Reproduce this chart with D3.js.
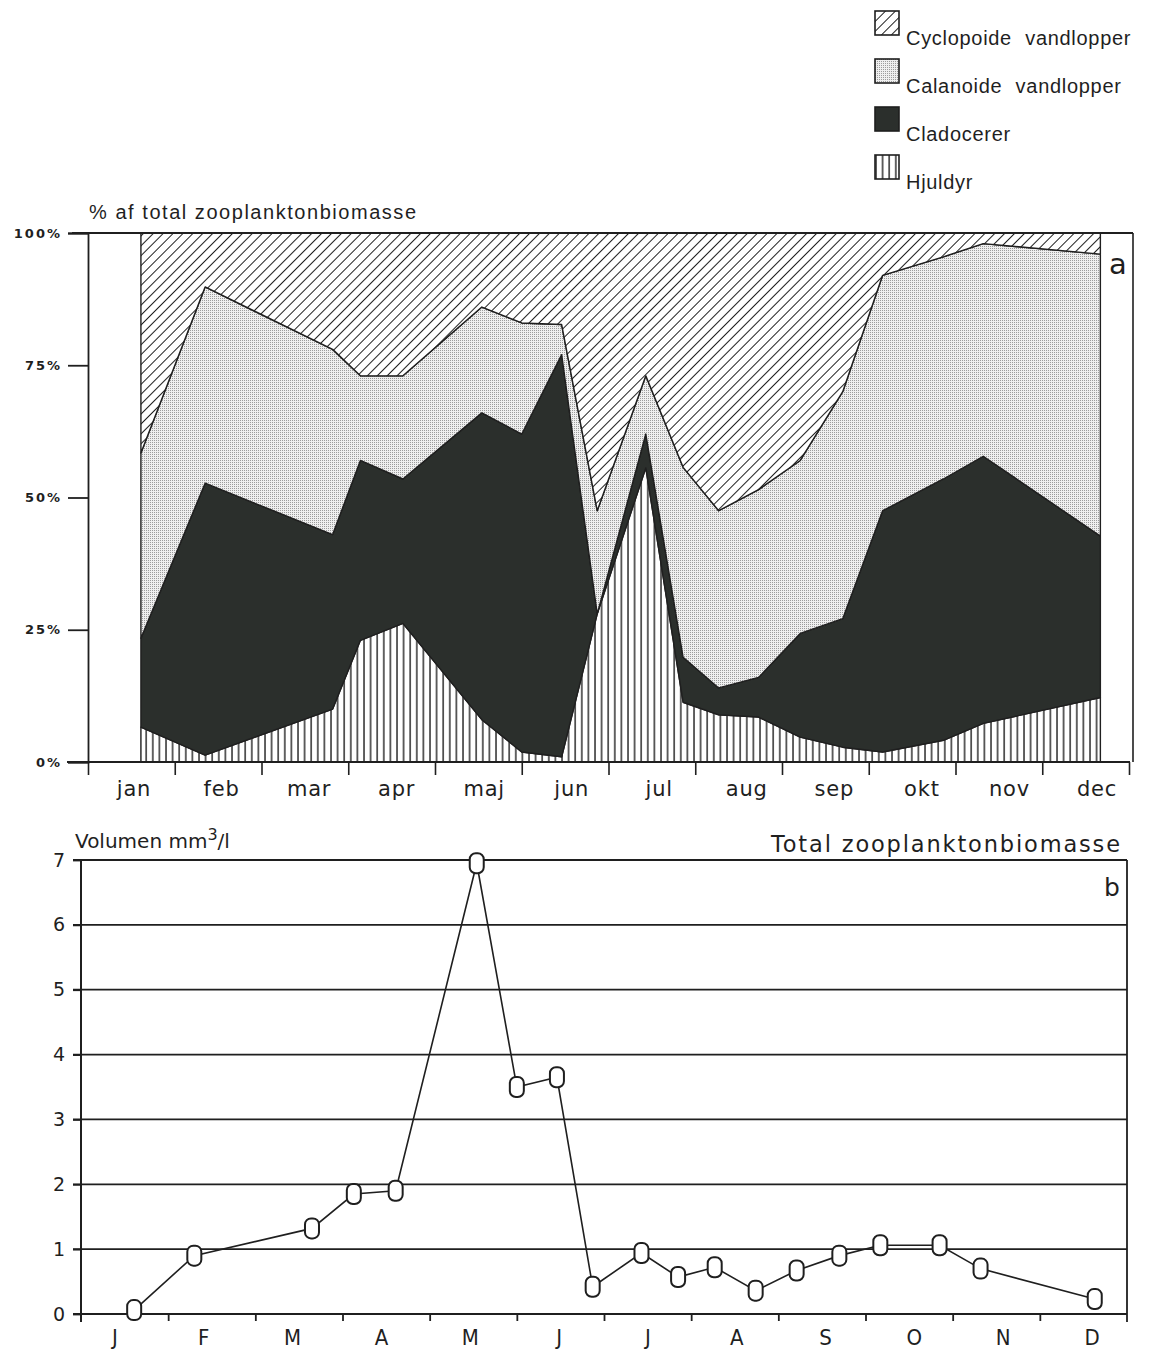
<!DOCTYPE html>
<html>
<head>
<meta charset="utf-8">
<script src="https://cdn.jsdelivr.net/npm/d3@7"></script>
<style>
    body { margin: 0; background: #fff; }
    svg { display: block; }
</style>
</head>
<body>
<div id="chart"></div>
<script>

// months
const monthNames = ['jan', 'feb', 'mar', 'apr', 'maj', 'jun', 'jul', 'aug', 'sep', 'okt', 'nov', 'dec'];
const monthInitials = ['J', 'F', 'M', 'A', 'M', 'J', 'J', 'A', 'S', 'O', 'N', 'D'];

// sampling dates, in months since 1 jan
const sampleMonthA = [0.61, 1.35, 2.82, 3.14, 3.63, 4.54, 5.00, 5.46, 5.87, 6.43, 6.86, 7.27, 7.73, 8.21, 8.70, 9.16, 9.86, 10.32, 11.67];
const sampleMonthB = [0.61, 1.30, 2.65, 3.13, 3.61, 4.54, 5.00, 5.46, 5.87, 6.43, 6.85, 7.27, 7.74, 8.21, 8.70, 9.17, 9.85, 10.32, 11.63];

// % of total zooplankton biomass (a)
const hjuldyr    = [6.6, 1.3, 10, 23, 26.2, 8, 1.9, 1, 28, 55.6, 11.3, 8.9, 8.5, 4.7, 2.8, 1.9, 4.1, 7.3, 12.2];
const cladocerer = [16.8, 51.4, 33, 34, 27.3, 58, 60.1, 76, 0, 6.4, 8.5, 5.1, 7.5, 19.6, 24.3, 45.6, 49.4, 50.5, 30.5];
const calanoide  = [35, 37.1, 35, 16, 19.5, 20, 21, 5.7, 19.5, 11, 35.9, 33.5, 35.5, 32.7, 42.9, 44.5, 42, 40.2, 53.3];
const cyclopoide = [41.6, 10.2, 22, 27, 27, 14, 17, 17.3, 52.5, 27, 44.3, 52.5, 48.5, 43, 30, 8, 4.5, 2, 4];

// total volume mm3/l (b)
const volumen = [0.06, 0.9, 1.32, 1.85, 1.9, 6.95, 3.5, 3.65, 0.42, 0.94, 0.57, 0.72, 0.36, 0.67, 0.9, 1.06, 1.06, 0.7, 0.23];

// ticks
const pctTicks = [0, 25, 50, 75, 100];
const volTicks = [0, 1, 2, 3, 4, 5, 6, 7];

// legend, top to bottom
const legendKeys = ['cyclopoide', 'calanoide', 'cladocerer', 'hjuldyr'];
const legendLabels = ['Cyclopoide vandlopper', 'Calanoide vandlopper', 'Cladocerer', 'Hjuldyr'];

const ink = '#1f1f1f';
const dark = '#2b2f2c';

const svg = d3.select('#chart')
    .append('svg')
    .attr('width', 1152)
    .attr('height', 1349);

// fill patterns
const defs = svg.append('defs');

const hatch = defs.append('pattern')
    .attr('id', 'fill-cyclopoide')
    .attr('patternUnits', 'userSpaceOnUse')
    .attr('width', 7).attr('height', 7)
    .attr('patternTransform', 'rotate(45)');
hatch.append('rect').attr('width', 7).attr('height', 7).attr('fill', '#fff');
hatch.append('line').attr('x1', 0).attr('y1', 0).attr('x2', 0).attr('y2', 7)
    .attr('stroke', ink).attr('stroke-width', 2);

const dots = defs.append('pattern')
    .attr('id', 'fill-calanoide')
    .attr('patternUnits', 'userSpaceOnUse')
    .attr('width', 2).attr('height', 2);
dots.append('rect').attr('width', 2).attr('height', 2).attr('fill', '#efefef');
dots.append('rect').attr('width', 1).attr('height', 1).attr('fill', '#9c9c9c');

const solid = defs.append('pattern')
    .attr('id', 'fill-cladocerer')
    .attr('patternUnits', 'userSpaceOnUse')
    .attr('width', 4).attr('height', 4);
solid.append('rect').attr('width', 4).attr('height', 4).attr('fill', dark);

const vert = defs.append('pattern')
    .attr('id', 'fill-hjuldyr')
    .attr('patternUnits', 'userSpaceOnUse')
    .attr('width', 6.6).attr('height', 10);
vert.append('rect').attr('width', 6.6).attr('height', 10).attr('fill', '#fff');
vert.append('line').attr('x1', 1).attr('y1', 0).attr('x2', 1).attr('y2', 10)
    .attr('stroke', ink).attr('stroke-width', 1.4);


// ---------- legend ----------
const legend = svg.append('g').attr('transform', 'translate(875,11)');

legendKeys.forEach((key, i) => {
    const row = legend.append('g').attr('transform', `translate(0,${i * 48})`);
    row.append('rect')
        .attr('width', 24).attr('height', 24)
        .attr('fill', `url(#fill-${key})`)
        .attr('stroke', ink).attr('stroke-width', 1.6);
    row.append('text')
        .attr('x', 31).attr('y', 34)
        .attr('font-family', 'Liberation Sans, Arial, sans-serif')
        .attr('font-size', 20)
        .attr('letter-spacing', 0.7)
        .attr('word-spacing', 7)
        .attr('fill', ink)
        .text(legendLabels[i]);
});


// ---------- chart a ----------
const xA = d3.scaleLinear().domain([0, 12]).range([88, 1129]);
const yA = d3.scaleLinear().domain([0, 100]).range([762, 233]);
const monthLabelA = d3.scaleLinear().domain([0, 11]).range([134, 1097]);

const rowsA = sampleMonthA.map((m, i) => ({
    month: m,
    hjuldyr: hjuldyr[i],
    cladocerer: cladocerer[i],
    calanoide: calanoide[i],
    cyclopoide: cyclopoide[i]
}));

const stack = d3.stack().keys(['hjuldyr', 'cladocerer', 'calanoide', 'cyclopoide']);
const layers = stack(rowsA);

const area = d3.area()
    .x(d => xA(d.data.month))
    .y0(d => yA(d[0]))
    .y1(d => yA(d[1]));

const chartA = svg.append('g');

chartA.selectAll('.layer')
    .data(layers)
    .join('path')
    .attr('class', 'layer')
    .attr('d', area)
    .attr('fill', d => `url(#fill-${d.key})`)
    .attr('stroke', ink)
    .attr('stroke-width', 1.4)
    .attr('stroke-linejoin', 'round');

// frame: top line and right box with label a
chartA.append('line')
    .attr('x1', 72).attr('x2', 1133)
    .attr('y1', yA(100)).attr('y2', yA(100))
    .attr('stroke', ink).attr('stroke-width', 1.8);
chartA.append('line')
    .attr('x1', 1133).attr('x2', 1133)
    .attr('y1', yA(100)).attr('y2', yA(0))
    .attr('stroke', ink).attr('stroke-width', 1.6);
chartA.append('text')
    .attr('x', 1118).attr('y', 274)
    .attr('text-anchor', 'middle')
    .attr('font-family', 'DejaVu Sans, sans-serif')
    .attr('font-size', 29)
    .attr('fill', ink)
    .text('a');

// y axis
const yAxisA = chartA.append('g')
    .attr('transform', 'translate(88,0)')
    .call(d3.axisLeft(yA).tickValues(pctTicks).tickSize(20).tickPadding(6).tickFormat(d => d + '%'));
yAxisA.select('.domain').attr('stroke', ink).attr('stroke-width', 1.8);
yAxisA.selectAll('.tick line').attr('stroke', ink).attr('stroke-width', 1.8);
yAxisA.selectAll('text')
    .attr('font-family', 'DejaVu Sans, sans-serif')
    .attr('font-weight', 'bold')
    .attr('font-size', 13)
    .attr('letter-spacing', 2)
    .attr('fill', ink);

// x axis
const xAxisA = chartA.append('g')
    .attr('transform', `translate(0,${yA(0)})`)
    .call(d3.axisBottom(xA).tickValues(d3.range(0, 13)).tickSize(13).tickFormat(''));
xAxisA.select('.domain').attr('d', `M67,0H1130`).attr('stroke', ink).attr('stroke-width', 1.8);
xAxisA.selectAll('.tick line').attr('stroke', ink).attr('stroke-width', 1.6);

chartA.append('g')
    .selectAll('text')
    .data(monthNames)
    .join('text')
    .attr('x', (d, i) => monthLabelA(i))
    .attr('y', 796)
    .attr('text-anchor', 'middle')
    .attr('font-family', 'DejaVu Sans, sans-serif')
    .attr('font-size', 21)
    .attr('letter-spacing', 0.8)
    .attr('fill', ink)
    .text(d => d);

chartA.append('text')
    .attr('x', 89).attr('y', 219)
    .attr('font-family', 'Liberation Sans, Arial, sans-serif')
    .attr('font-size', 20)
    .attr('textLength', 327)
    .attr('lengthAdjust', 'spacing')
    .attr('fill', ink)
    .text('% af total  zooplanktonbiomasse');


// ---------- chart b ----------
const xB = d3.scaleLinear().domain([0, 12]).range([81, 1127]);
const yB = d3.scaleLinear().domain([0, 7]).range([1314, 860]);
const monthLabelB = d3.scaleLinear().domain([0, 11]).range([115, 1092]);

const chartB = svg.append('g');

// grid lines
chartB.append('g')
    .selectAll('line')
    .data(volTicks)
    .join('line')
    .attr('x1', 73).attr('x2', 1127)
    .attr('y1', d => yB(d)).attr('y2', d => yB(d))
    .attr('stroke', ink).attr('stroke-width', 1.8);

chartB.append('line')
    .attr('x1', 81).attr('x2', 81)
    .attr('y1', yB(7)).attr('y2', yB(0) + 8)
    .attr('stroke', ink).attr('stroke-width', 2);
chartB.append('line')
    .attr('x1', 1127).attr('x2', 1127)
    .attr('y1', yB(7)).attr('y2', yB(0) + 8)
    .attr('stroke', ink).attr('stroke-width', 1.8);

const yAxisB = chartB.append('g')
    .attr('transform', 'translate(81,0)')
    .call(d3.axisLeft(yB).tickValues(volTicks).tickSize(8).tickPadding(8).tickFormat(d3.format('d')));
yAxisB.select('.domain').remove();
yAxisB.selectAll('.tick line').attr('stroke', ink).attr('stroke-width', 1.8);
yAxisB.selectAll('text')
    .attr('font-family', 'DejaVu Sans, sans-serif')
    .attr('font-size', 19)
    .attr('fill', ink);

const xAxisB = chartB.append('g')
    .attr('transform', `translate(0,${yB(0)})`)
    .call(d3.axisBottom(xB).tickValues(d3.range(1, 12)).tickSize(7).tickFormat(''));
xAxisB.select('.domain').remove();
xAxisB.selectAll('.tick line').attr('stroke', ink).attr('stroke-width', 1.8);

chartB.append('g')
    .selectAll('text')
    .data(monthInitials)
    .join('text')
    .attr('x', (d, i) => monthLabelB(i))
    .attr('y', 1345)
    .attr('text-anchor', 'middle')
    .attr('font-family', 'DejaVu Sans Condensed, DejaVu Sans, sans-serif')
    .attr('font-size', 22)
    .attr('fill', ink)
    .text(d => d);

// titles
const volTitle = chartB.append('text')
    .attr('x', 75).attr('y', 848)
    .attr('font-family', 'DejaVu Sans, sans-serif')
    .attr('font-size', 20)
    .attr('fill', ink);
volTitle.append('tspan').text('Volumen mm');
volTitle.append('tspan').attr('dy', -8).attr('font-size', 16).text('3');
volTitle.append('tspan').attr('dy', 8).text('/l');

chartB.append('text')
    .attr('x', 771).attr('y', 852)
    .attr('font-family', 'DejaVu Sans, sans-serif')
    .attr('font-size', 22.5)
    .attr('textLength', 349)
    .attr('lengthAdjust', 'spacing')
    .attr('fill', ink)
    .text('Total zooplanktonbiomasse');

chartB.append('text')
    .attr('x', 1112).attr('y', 896)
    .attr('text-anchor', 'middle')
    .attr('font-family', 'DejaVu Sans, sans-serif')
    .attr('font-size', 25)
    .attr('fill', ink)
    .text('b');

// volume line
const line = d3.line()
    .x((d, i) => xB(sampleMonthB[i]))
    .y(d => yB(d));

chartB.append('path')
    .datum(volumen)
    .attr('fill', 'none')
    .attr('stroke', ink)
    .attr('stroke-width', 1.6)
    .attr('d', line);

chartB.append('g')
    .selectAll('rect')
    .data(volumen)
    .join('rect')
    .attr('x', (d, i) => xB(sampleMonthB[i]) - 7)
    .attr('y', d => yB(d) - 10)
    .attr('width', 14)
    .attr('height', 20)
    .attr('rx', 6)
    .attr('fill', '#fff')
    .attr('stroke', ink)
    .attr('stroke-width', 2);

</script>
</body>
</html>
